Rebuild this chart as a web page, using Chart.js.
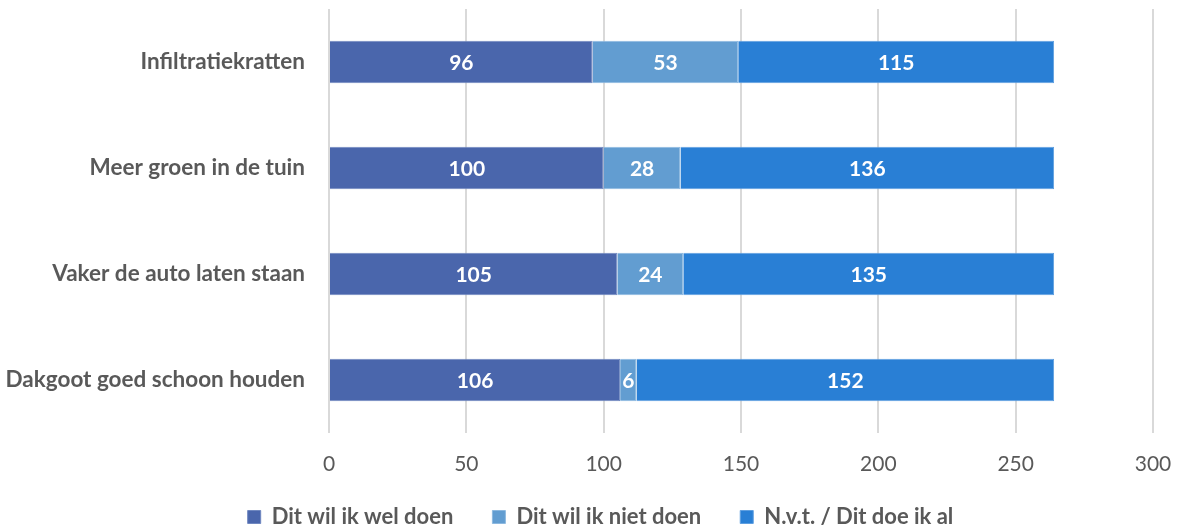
<!DOCTYPE html>
<html>
<head>
<meta charset="utf-8">
<script src="https://cdn.jsdelivr.net/npm/chart.js@4"></script>
<style>
    html, body { margin: 0; padding: 0; background: #ffffff; }
    #wrap { width: 1178px; height: 528px; }
</style>
</head>
<body>
<div id="wrap"><canvas id="measuresChart"></canvas></div>
<script>
const categories = [
    'Infiltratiekratten',
    'Meer groen in de tuin',
    'Vaker de auto laten staan',
    'Dakgoot goed schoon houden'
];
const wilWelDoen = [96, 100, 105, 106];
const wilNietDoen = [53, 28, 24, 6];
const doeIkAl = [115, 136, 135, 152];
const seriesNames = ['Dit wil ik wel doen', 'Dit wil ik niet doen', 'N.v.t. / Dit doe ik al'];
const xMax = 300;
const xStep = 50;

const FONT = 'Lato, "Open Sans", sans-serif';
const TEXT_GRAY = '#595959';

// Value labels centred inside each bar segment
const segmentLabels = {
    id: 'segmentLabels',
    afterDatasetsDraw(chart) {
        const ctx = chart.ctx;
        ctx.save();
        ctx.font = 'bold 21px ' + FONT;
        ctx.fillStyle = '#ffffff';
        ctx.textAlign = 'center';
        ctx.textBaseline = 'middle';
        chart.data.datasets.forEach((ds, i) => {
            chart.getDatasetMeta(i).data.forEach((bar, j) => {
                const mid = (bar.x + bar.base) / 2;
                ctx.fillText(String(ds.data[j]), mid, bar.y + 1);
            });
        });
        ctx.restore();
    }
};

// Nudge the legend: a bit to the right and up closer to the axis
const legendNudge = {
    id: 'legendNudge',
    afterLayout(chart) {
        const lg = chart.legend;
        lg.left += 24;
        lg.right += 24;
        lg.top -= 13;
    }
};

// keep tick padding from pushing the plot area inwards
function noScalePadding(scale) {
    scale.paddingTop = 0;
    scale.paddingBottom = 0;
    scale.paddingLeft = 0;
    scale.paddingRight = 0;
}

const ctx = document.getElementById('measuresChart').getContext('2d');
new Chart(ctx, {
    type: 'bar',
    data: {
        labels: categories,
        datasets: [
            { label: seriesNames[0], data: wilWelDoen, backgroundColor: '#4a66ac', borderColor: '#7088c0', borderWidth: 1 },
            { label: seriesNames[1], data: wilNietDoen, backgroundColor: '#629dd1', borderColor: '#8db9e0', borderWidth: 1 },
            { label: seriesNames[2], data: doeIkAl, backgroundColor: '#297fd5', borderColor: '#5f9fe0', borderWidth: 1 }
        ]
    },
    options: {
        indexAxis: 'y',
        responsive: true,
        maintainAspectRatio: false,
        animation: false,
        layout: { padding: { top: 9, right: 25, left: 0, bottom: 0 } },
        categoryPercentage: 1,
        barPercentage: 0.4,
        scales: {
            x: {
                stacked: true,
                min: 0,
                max: xMax,
                ticks: {
                    stepSize: xStep,
                    color: TEXT_GRAY,
                    font: { family: FONT, size: 21 },
                    padding: 19
                },
                grid: { color: '#d9d9d9', lineWidth: 2, drawTicks: false },
                border: { display: false },
                afterFit(scale) {
                    noScalePadding(scale);
                    scale.height = 47;
                }
            },
            y: {
                stacked: true,
                ticks: {
                    color: TEXT_GRAY,
                    font: { family: FONT, size: 22.5, weight: 'bold' },
                    padding: 24
                },
                grid: { display: false, drawTicks: false },
                border: { display: false },
                afterFit(scale) {
                    noScalePadding(scale);
                    scale.width = 329;
                }
            }
        },
        plugins: {
            legend: {
                position: 'bottom',
                maxHeight: 48,
                labels: {
                    color: TEXT_GRAY,
                    font: { family: FONT, size: 22, weight: 'bold' },
                    boxWidth: 13,
                    boxHeight: 13,
                    padding: 39
                }
            },
            tooltip: { enabled: false }
        }
    },
    plugins: [segmentLabels, legendNudge]
});
</script>
</body>
</html>
